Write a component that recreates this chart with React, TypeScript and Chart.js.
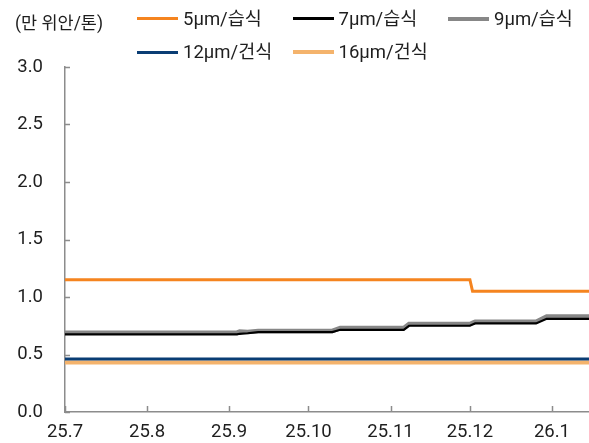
import React, { useEffect, useRef } from 'react';
import { Chart, registerables } from 'chart.js';

Chart.register(...registerables);

// ---- data ----
const dates = [
  '2025-07-01', '2025-09-04', '2025-09-05', '2025-09-08', '2025-09-12',
  '2025-10-10', '2025-10-13', '2025-11-06', '2025-11-08', '2025-12-01',
  '2025-12-02', '2025-12-03', '2025-12-26', '2025-12-30', '2026-01-15',
];
const wet5 = [1.15, 1.15, 1.15, 1.15, 1.15, 1.15, 1.15, 1.15, 1.15, 1.15, 1.05, 1.05, 1.05, 1.05, 1.05];
const wet7 = [0.675, 0.675, 0.68, 0.685, 0.695, 0.695, 0.715, 0.715, 0.75, 0.75, 0.76, 0.77, 0.77, 0.81, 0.81];
const wet9 = [0.69, 0.69, 0.70, 0.695, 0.705, 0.705, 0.73, 0.73, 0.765, 0.765, 0.775, 0.785, 0.785, 0.83, 0.83];
const dry12 = [0.46, 0.46, 0.46, 0.46, 0.46, 0.46, 0.46, 0.46, 0.46, 0.46, 0.46, 0.46, 0.46, 0.46, 0.46];
const dry16 = [0.43, 0.43, 0.43, 0.43, 0.43, 0.43, 0.43, 0.43, 0.43, 0.43, 0.43, 0.43, 0.43, 0.43, 0.43];

const monthTickDates = ['2025-07-01', '2025-08-01', '2025-09-01', '2025-10-01', '2025-11-01', '2025-12-01', '2026-01-01'];
const monthTickLabels = ['25.7', '25.8', '25.9', '25.10', '25.11', '25.12', '26.1'];
const axisEndDate = '2026-01-15';

const seriesNames = ['5\u03BCm/습식', '7\u03BCm/습식', '9\u03BCm/습식', '12\u03BCm/건식', '16\u03BCm/건식'];
const seriesValues = [wet5, wet7, wet9, dry12, dry16];
const seriesColors = ['#F5841F', '#000000', '#878787', '#0A3D74', '#F4B36C'];
const seriesWidths = [3, 2.2, 4.5, 3, 4];
const legendWidths = [3, 3, 4, 3, 4];

const unitLabel = '(만 위안/톤)';
const FONT = "Roboto, 'Noto Sans CJK KR', sans-serif";
const AXIS_COLOR = '#8c8c8c';
const TEXT_COLOR = '#1e1e1e';

const BASE = Date.UTC(2025, 6, 1);
const dayOf = (s: string) => (Date.parse(s + 'T00:00:00Z') - BASE) / 86400000;

const innerTicks = {
  id: 'innerTicks',
  afterDatasetsDraw(chart: any) {
    const { ctx, chartArea, scales } = chart;
    ctx.save();
    ctx.strokeStyle = AXIS_COLOR;
    ctx.lineWidth = 1.5;
    ctx.beginPath();
    scales.x.ticks.forEach((t: any) => {
      const px = Math.round(scales.x.getPixelForValue(t.value)) + 0.5;
      ctx.moveTo(px, chartArea.bottom);
      ctx.lineTo(px, chartArea.bottom - 6);
    });
    scales.y.ticks.forEach((t: any) => {
      const py = Math.round(scales.y.getPixelForValue(t.value)) + 0.5;
      ctx.moveTo(chartArea.left, py);
      ctx.lineTo(chartArea.left + 5, py);
    });
    ctx.stroke();
    ctx.restore();
  },
};

export default function App() {
  const canvasRef = useRef<HTMLCanvasElement | null>(null);

  useEffect(() => {
    if (!canvasRef.current) return;
    Chart.defaults.font.family = FONT;
    Chart.defaults.color = TEXT_COLOR;
    const xs = dates.map(dayOf);
    const chart = new Chart(canvasRef.current, {
      type: 'line',
      data: {
        datasets: seriesNames.map((name, i) => ({
          label: name,
          data: seriesValues[i].map((v, j) => ({ x: xs[j], y: v })),
          borderColor: seriesColors[i],
          backgroundColor: seriesColors[i],
          borderWidth: seriesWidths[i],
          pointRadius: 0,
          tension: 0,
          fill: false,
        })),
      },
      options: {
        animation: false,
        responsive: false,
        events: [],
        layout: { padding: { top: 67, right: 0, left: 0, bottom: 0 } },
        plugins: {
          legend: { display: false },
          tooltip: { enabled: false },
        },
        scales: {
          x: {
            type: 'linear',
            min: 0,
            max: dayOf(axisEndDate),
            afterBuildTicks: (axis: any) => {
              axis.ticks = monthTickDates.map((d) => ({ value: dayOf(d) }));
            },
            afterFit: (axis: any) => {
              axis.height = 31;
            },
            grid: { display: true, drawOnChartArea: false, drawTicks: false },
            border: { display: true, color: AXIS_COLOR, width: 1.5 },
            ticks: {
              autoSkip: false,
              maxRotation: 0,
              padding: 13,
              color: TEXT_COLOR,
              font: { size: 18.5, family: FONT, lineHeight: 0.8 },
              callback: (_v: any, i: number) => monthTickLabels[i],
            },
          },
          y: {
            min: 0,
            max: 3,
            afterFit: (axis: any) => {
              axis.width = 65;
              axis.paddingTop = 0;
              axis.paddingBottom = 0;
            },
            grid: { display: true, drawOnChartArea: false, drawTicks: false },
            border: { display: true, color: AXIS_COLOR, width: 1.5 },
            ticks: {
              stepSize: 0.5,
              padding: 22,
              color: TEXT_COLOR,
              font: { size: 18.5, family: FONT },
              callback: (v: any) => Number(v).toFixed(1),
            },
          },
        },
      },
      plugins: [innerTicks],
    } as any);
    return () => chart.destroy();
  }, []);

  const legendItem = (i: number) => {
    const col = i < 3 ? i : i - 3;
    const row = i < 3 ? 0 : 1;
    return (
      <div
        key={i}
        style={{
          position: 'absolute',
          left: 137 + col * 155.5,
          top: row === 0 ? 18.8 : 52.2,
          transform: 'translateY(-50%)',
          display: 'flex',
          alignItems: 'center',
          whiteSpace: 'nowrap',
        }}
      >
        <div style={{ width: 41, height: legendWidths[i], background: seriesColors[i], marginRight: 5 }} />
        <span style={{ fontSize: 18.5, lineHeight: '22px', color: TEXT_COLOR }}>{seriesNames[i]}</span>
      </div>
    );
  };

  return (
    <div
      style={{
        position: 'fixed',
        left: 0,
        top: 0,
        width: 589,
        height: 443,
        background: '#fff',
        fontFamily: FONT,
        overflow: 'hidden',
      }}
    >
      <canvas ref={canvasRef} width={589} height={443} style={{ position: 'absolute', left: 0, top: 0, width: 589, height: 443 }} />
      <div
        style={{
          position: 'absolute',
          left: 15,
          top: 23.3,
          transform: 'translateY(-50%)',
          fontSize: 17.5,
          lineHeight: '22px',
          color: TEXT_COLOR,
          whiteSpace: 'nowrap',
        }}
      >
        {unitLabel}
      </div>
      {seriesNames.map((_, i) => legendItem(i))}
    </div>
  );
}
